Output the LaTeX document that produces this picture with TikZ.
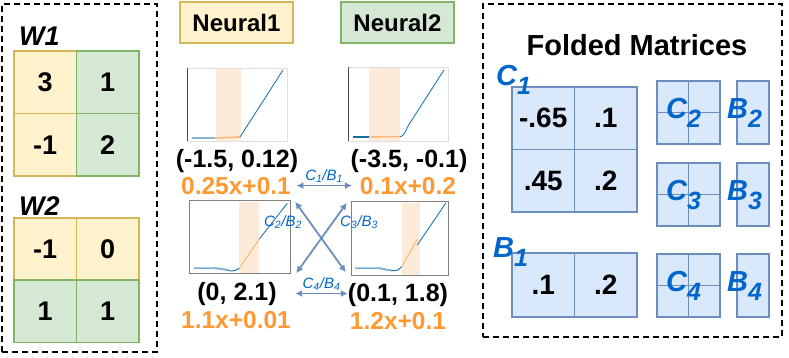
\documentclass[tikz,border=0pt]{standalone}
\usepackage{fontspec}
\setmainfont{Liberation Sans}
\usetikzlibrary{arrows.meta}

\definecolor{yelfill}{HTML}{FFF2CC}
\definecolor{yeldraw}{HTML}{D6B656}
\definecolor{grnfill}{HTML}{D5E8D4}
\definecolor{grndraw}{HTML}{82B366}
\definecolor{blufill}{HTML}{DAE8FC}
\definecolor{bludraw}{HTML}{6C8EBF}
\definecolor{linorange}{HTML}{FF9933}
\definecolor{tagblue}{HTML}{0066CC}
\definecolor{pltblue}{HTML}{1F77B4}
\definecolor{pltorange}{HTML}{FFB570}
\definecolor{bandfill}{HTML}{FDEBDA}

\newcommand{\fsz}[1]{\fontsize{#1}{#1}\selectfont}
\newcommand{\bigsub}[2]{{\fsz{29}\bfseries\itshape #1}\raisebox{-9pt}{\fsz{25}\bfseries\itshape #2}}

\begin{document}
\begin{tikzpicture}[
  x=1pt,y=-1pt,
  wcell/.style={
    minimum width=62.5pt,
    minimum height=62.5pt,
    line width=1.5pt,
    inner sep=0pt,
    font=\fsz{27}\bfseries
  },
  ycell/.style={wcell,draw=yeldraw,fill=yelfill},
  gcell/.style={wcell,draw=grndraw,fill=grnfill},
  bcell/.style={
    draw=bludraw,
    fill=blufill,
    line width=1.5pt,
    inner sep=0pt,
    font=\fsz{28}\bfseries
  },
  smcell/.style={bcell,minimum width=31.5pt,minimum height=31.5pt},
  dashframe/.style={draw,line width=1.5pt,dash pattern=on 6pt off 4pt},
  plotbox/.style={minimum width=100pt,minimum height=73pt,inner sep=0pt},
  ptlabel/.style={anchor=base,font=\fsz{25}\bfseries},
  linlabel/.style={ptlabel,font=\fsz{24.5}\bfseries,text=linorange},
  biglab/.style={anchor=base west,inner sep=0pt,text=tagblue},
  tag/.style={font=\fsz{15}\itshape,text=tagblue},
  link/.style={
    line width=1.8pt,
    draw=bludraw,
    {Latex[length=7pt,width=7pt]}-{Latex[length=7pt,width=7pt]}
  }
]
  \useasboundingbox (0,0) rectangle (789,357);

  % Weight matrices of the two layers
  \node[dashframe,minimum width=155pt,minimum height=348pt] (wbox) at (79.5,178) {};
  \node[anchor=base west,inner sep=0pt,font=\fsz{27}\bfseries\itshape] (w1) at (19,45) {W1};
  \foreach \r/\a/\b in {1/3/1,2/-1/2} {
    \node[ycell] (w1-\r1) at (45.25,{19.75+62.5*\r}) {\a};
    \node[gcell] (w1-\r2) at (107.75,{19.75+62.5*\r}) {\b};
  }
  \node[anchor=base west,inner sep=0pt,font=\fsz{27}\bfseries\itshape] (w2) at (19,215) {W2};
  \foreach \c/\a/\b in {1/-1/1,2/0/1} {
    \node[ycell] (w2-1\c) at ({-17.25+62.5*\c},249) {\a};
    \node[gcell] (w2-2\c) at ({-17.25+62.5*\c},311) {\b};
  }

  % Neurons and their activation plots
  \node[draw=yeldraw,fill=yelfill,line width=1.5pt,minimum width=113pt,
    minimum height=41pt,font=\fsz{24}\bfseries] (n1) at (236.5,22.5) {Neural1};
  \node[draw=grndraw,fill=grnfill,line width=1.5pt,minimum width=113pt,
    minimum height=41pt,font=\fsz{24}\bfseries] (n2) at (397.5,22.5) {Neural2};

  \node[plotbox] (p1) at (237,104.5) {};
  \fill[bandfill] (216,68) rectangle (241,141);
  \draw[gray!25] (p1.north west) -- (p1.north east) -- (p1.south east) -- (p1.south west);
  \draw[gray!60!black] (p1.north west) -- (p1.south west);
  \draw[pltblue!55,line width=2.2pt] (192,138) -- (215,138);
  \draw[pltorange,line width=1.4pt] (215,138) -- (240,137);
  \draw[pltblue,line width=.9pt] (240,137) -- (283,70);

  \node[plotbox,minimum height=74pt] (p2) at (398,104) {};
  \fill[bandfill] (369,67) rectangle (400,141);
  \draw[gray!25] (p2.north west) -- (p2.north east) -- (p2.south east) -- (p2.south west);
  \draw[gray!60!black] (p2.north west) -- (p2.south west);
  \draw[pltblue!90!black,line width=1.4pt] (353,137) -- (369,137);
  \draw[pltorange,line width=1.4pt] (369,137) -- (400,136.5);
  \draw[pltblue,line width=.9pt] (400,137) .. controls (404,135) .. (408,126) -- (444,70);

  \node[plotbox,minimum width=101pt] (p3) at (239.5,236.5) {};
  \fill[bandfill] (239,202) rectangle (259,273);
  \draw[gray] (p3.north west) rectangle (p3.south east);
  \draw[pltblue,line width=1pt] (194,268) -- (214,268)
    .. controls (226,269) and (230,272) .. (235,270.5) -- (239.3,268.3);
  \draw[pltblue!55,line width=2pt] (214,268) -- (228,269.8);
  \draw[pltorange,line width=1pt] (239.3,268.3) -- (259.3,239);
  \draw[pltblue,line width=.9pt] (259.3,239) -- (287.3,203.3);

  \node[plotbox,minimum width=97pt,minimum height=74pt] (p4) at (399.5,238) {};
  \fill[bandfill] (402,203) rectangle (420,275);
  \draw[gray] (p4.north west) rectangle (p4.south east);
  \draw[pltblue,line width=1pt] (355,268) -- (378,268)
    .. controls (388,269.5) and (392,272) .. (398,270) -- (401.7,266.7);
  \draw[pltblue!55,line width=2pt] (378,268) -- (391,270.5);
  \draw[pltorange,line width=1pt] (401.7,266.7) -- (417.3,239.3);
  \draw[pltblue,line width=.9pt] (417.3,245) -- (446,202.7);

  % Breakpoints and linear pieces
  \node[ptlabel] (pt1) at (237,167) {(-1.5, 0.12)};
  \node[ptlabel] (pt2) at (409,167) {(-3.5, -0.1)};
  \node[linlabel] (lin1) at (236,194) {0.25x+0.1};
  \node[linlabel] (lin2) at (408,194) {0.1x+0.2};
  \node[ptlabel] (pt3) at (237,300) {(0, 2.1)};
  \node[ptlabel] (pt4) at (398,301) {(0.1, 1.8)};
  \node[linlabel] (lin3) at (236,328) {1.1x+0.01};
  \node[linlabel] (lin4) at (398,329) {1.2x+0.1};

  % Folding links between the pieces
  \draw[link] ([xshift=2pt]lin1.east) --
    node[tag,above=-1.5pt] {C\textsubscript{1}/B\textsubscript{1}} ([xshift=-4.5pt]lin2.west);
  \draw[link] ([xshift=5pt]p3.east |- pt3) --
    node[tag,above=-1.5pt] {C\textsubscript{4}/B\textsubscript{4}} ([xshift=-3pt]p4.west |- pt3);
  \draw[link] ([shift={(5pt,-2pt)}]p3.north east) -- ([shift={(-5pt,3pt)}]p4.south west);
  \draw[link] ([shift={(6pt,0pt)}]p3.south east) -- ([shift={(-4pt,-2pt)}]p4.north west);
  \node[tag] (t2) at (283,222) {C\textsubscript{2}/B\textsubscript{2}};
  \node[tag] (t3) at (359,222) {C\textsubscript{3}/B\textsubscript{3}};

  % Folded matrices
  \node[dashframe,minimum width=299pt,minimum height=333pt] (fbox) at (632.5,170.5) {};
  \node[font=\fsz{29}\bfseries] (ftitle) at (637,45) {Folded Matrices};

  \foreach \r/\a/\b in {1/-.65/.1,2/.45/.2} {
    \node[bcell,minimum width=62.5pt,minimum height=62.5pt] (c1-\r1) at (543.25,{55.75+62.5*\r}) {\a};
    \node[bcell,minimum width=62.5pt,minimum height=62.5pt] (c1-\r2) at (605.75,{55.75+62.5*\r}) {\b};
  }
  \node[biglab] (clab1) at (496,85) {\bigsub{C}{1}};

  \node[bcell,minimum width=62.5pt,minimum height=64pt] (b1-1) at (543.25,285) {.1};
  \node[bcell,minimum width=62.5pt,minimum height=64pt] (b1-2) at (605.75,285) {.2};
  \node[biglab] (blab1) at (493,257) {\bigsub{B}{1}};

  \foreach \k/\t in {2/81,3/163,4/254} {
    \foreach \r in {1,2}
      \foreach \c in {1,2}
        \node[smcell] (c\k-\r\c) at ({641.25+31.5*\c},{\t-15.75+31.5*\r}) {};
    \node[smcell,minimum width=32pt,minimum height=63pt] (b\k) at (753,{\t+31.5}) {};
    \node[biglab] (clab\k) at (666,{\t+37}) {\bigsub{C}{\k}};
    \node[biglab] (blab\k) at (727,{\t+37}) {\bigsub{B}{\k}};
  }
\end{tikzpicture}
\end{document}
